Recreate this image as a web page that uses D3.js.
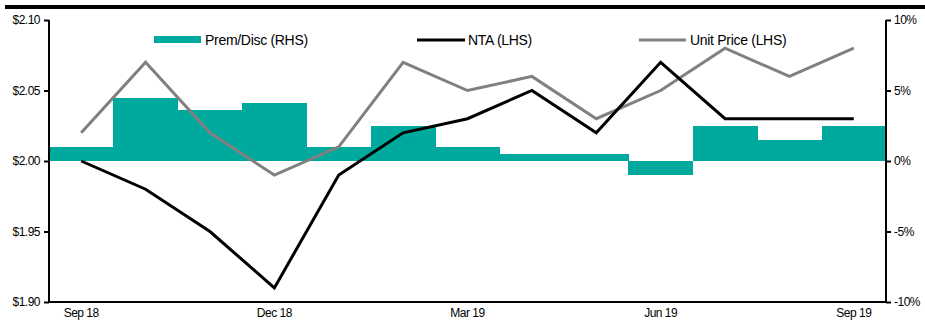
<!DOCTYPE html>
<html><head><meta charset="utf-8">
<script src="https://cdn.jsdelivr.net/npm/d3@7"></script>
<style>body{margin:0;background:#fff}svg{display:block;font-family:"Liberation Sans",Arial,sans-serif}</style>
</head><body><svg id="c" width="925" height="320"></svg>
<script>
const months = ["Sep 18","Oct 18","Nov 18","Dec 18","Jan 19","Feb 19","Mar 19","Apr 19","May 19","Jun 19","Jul 19","Aug 19","Sep 19"];
const premDisc = [1.0,4.5,3.6,4.1,1.0,2.5,1.0,0.5,0.5,-1.0,2.5,1.5,2.5];
const nta = [2.00,1.98,1.95,1.91,1.99,2.02,2.03,2.05,2.02,2.07,2.03,2.03,2.03];
const unitPrice = [2.02,2.07,2.02,1.99,2.01,2.07,2.05,2.06,2.03,2.05,2.08,2.06,2.08];
const leftTicks = [1.90,1.95,2.00,2.05,2.10];
const rightTicks = [-10,-5,0,5,10];
const xLabels = ["Sep 18","Dec 18","Mar 19","Jun 19","Sep 19"];

const svg = d3.select("#c");
const L=49, R=886, T=20, B=302;
const x = d3.scaleBand().domain(months).range([L,R]).padding(0);
const yL = d3.scaleLinear().domain([1.90,2.10]).range([B,T]);
const yR = d3.scaleLinear().domain([-10,10]).range([B,T]);
const teal="#00A99D", grey="#808080";

svg.append("rect").attr("x",5).attr("y",5).attr("width",920).attr("height",4).attr("fill","#000");

svg.append("g").attr("shape-rendering","crispEdges").selectAll("rect").data(months).join("rect")
  .attr("x",d=>x(d)).attr("width",x.bandwidth()+0.6)
  .attr("y",(d,i)=>yR(Math.max(0,premDisc[i])))
  .attr("height",(d,i)=>Math.abs(yR(premDisc[i])-yR(0)))
  .attr("fill",teal);

const line = d3.line().x((d,i)=>x(months[i])+x.bandwidth()/2);
svg.append("path").datum(unitPrice).attr("fill","none").attr("stroke",grey).attr("stroke-width",3)
  .attr("d",line.y(d=>yL(d)));
svg.append("path").datum(nta).attr("fill","none").attr("stroke","#000").attr("stroke-width",3)
  .attr("d",line.y(d=>yL(d)));

const gl = svg.append("g").attr("transform",`translate(${L},0)`)
  .call(d3.axisLeft(yL).tickValues(leftTicks).tickSize(5).tickSizeOuter(0).tickFormat(d=>"$"+d.toFixed(2)));
const gr = svg.append("g").attr("transform",`translate(${R},0)`)
  .call(d3.axisRight(yR).tickValues(rightTicks).tickSize(5).tickSizeOuter(0).tickFormat(d=>d+"%"));
const gb = svg.append("g").attr("transform",`translate(0,${B})`)
  .call(d3.axisBottom(x).tickValues(xLabels).tickSize(0).tickSizeOuter(0));
[gl,gr,gb].forEach(g=>{
  g.selectAll("text").attr("font-family","Liberation Sans, Arial, sans-serif").attr("font-size",12).attr("fill","#000").attr("letter-spacing","-0.5px");
  g.selectAll("path,line").attr("stroke","#000").attr("stroke-width",2);
});
gl.select(".domain").attr("d",`M0,${T}V${B}`);
gr.select(".domain").attr("d",`M0,${T}V${B}`);
gb.select(".domain").attr("d",`M${L},0H${R}`);
gl.selectAll("text").attr("x",-9);
gr.selectAll("text").attr("x",8);
gb.selectAll("text").attr("dy","0.71em").attr("y",6);

const lg = svg.append("g").attr("font-size",14).attr("letter-spacing","-0.3px");
lg.append("rect").attr("x",154).attr("y",36).attr("width",47).attr("height",7).attr("fill",teal);
lg.append("text").attr("x",205).attr("y",45).text("Prem/Disc (RHS)");
lg.append("line").attr("x1",417).attr("x2",465).attr("y1",40).attr("y2",40).attr("stroke","#000").attr("stroke-width",3);
lg.append("text").attr("x",468).attr("y",45).text("NTA (LHS)");
lg.append("line").attr("x1",639).attr("x2",686).attr("y1",40).attr("y2",40).attr("stroke",grey).attr("stroke-width",3);
lg.append("text").attr("x",690).attr("y",45).text("Unit Price (LHS)");
</script></body></html>
